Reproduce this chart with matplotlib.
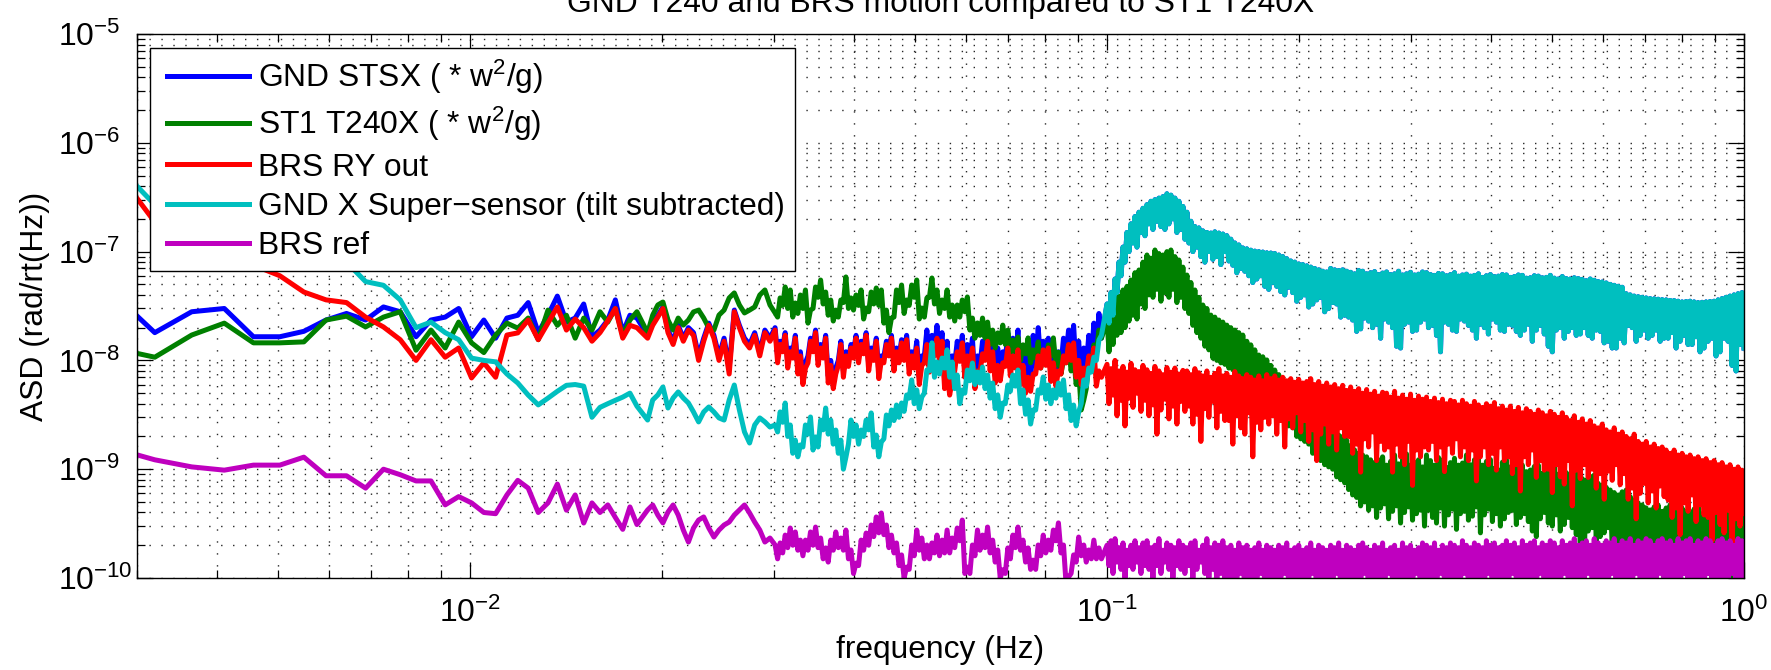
import numpy as np
import matplotlib
matplotlib.use('Agg')
import matplotlib.pyplot as plt
from matplotlib.ticker import LogLocator, NullFormatter
from matplotlib.lines import Line2D
from matplotlib.legend_handler import HandlerLine2D

plt.rcParams['font.family'] = ['Liberation Sans', 'DejaVu Sans']
plt.rcParams['mathtext.fontset'] = 'custom'
plt.rcParams['mathtext.rm'] = 'Liberation Sans'
plt.rcParams['mathtext.it'] = 'Liberation Sans:italic'
plt.rcParams['mathtext.bf'] = 'Liberation Sans:bold'
plt.rcParams['mathtext.default'] = 'regular'

# ---------------- text ----------------
TITLE = 'GND T240 and BRS motion compared to ST1 T240X'
XLABEL = 'frequency (Hz)'
YLABEL = 'ASD (rad/rt(Hz))'
series_labels = ['GND STSX ( * w$^2$/g)',
                 'ST1 T240X ( * w$^2$/g)',
                 'BRS RY out',
                 'GND X Super\u2212sensor (tilt subtracted)',
                 'BRS ref']
series_colors = ['#0000ff', '#008000', '#ff0000', '#00bfbf', '#bf00bf']

# ---------------- data ----------------
# values in units of 1e-10 rad/sqrt(Hz)
UNIT = 1e-10
DF = 4.57e-4     # FFT bin width of the low-frequency part (Hz)
K0 = 6           # first bin shown
N_SPARSE = 25    # mid samples below ~0.03 Hz that have no extra lower samples
# low part: FFT bins K0.. ;
# mid part (0.019-0.098 Hz) and high part (0.1-1 Hz): alternating samples
# (upper values / lower values of the noisy trace)

blue_low = [420, 180, 280, 300, 165, 165, 185, 235, 270, 235,
            310, 280, 165, 235, 250, 300, 165, 235, 160, 245,
            260, 340, 180, 260, 390, 225, 245, 330, 165, 190,
            235, 360, 180, 260, 245]
blue_mid_top = [170, 220, 260, 310, 190, 150, 210, 160, 200, 180,
                110, 160, 220, 170, 110, 160, 85, 290, 210, 160,
                140, 180, 120, 190, 160, 200, 150, 180, 130, 170,
                120, 95, 160, 190, 140, 170, 100, 85, 150, 120,
                140, 170, 150, 180, 130, 160, 110, 150, 170, 130,
                155, 170, 120, 150, 110, 190, 170, 210, 180, 150,
                110, 150, 170, 140, 160, 110, 150, 190, 170, 130,
                120, 180, 160, 190, 130, 110, 170, 200, 150, 160,
                140, 120, 160, 190, 210, 150, 130, 170, 220, 270]
blue_mid_dip = [110, 135, 95, 120, 85,
                70, 110, 135, 100, 120, 72, 62, 100, 80, 100,
                120, 110, 130, 92, 115, 78, 108, 125, 92, 108,
                115, 88, 98, 70, 110, 90, 125, 110, 65, 58,
                92, 112, 82, 100, 64, 90, 115, 92, 72, 75,
                100, 85, 98, 70, 60, 62, 88, 98, 104, 75,
                68, 88, 108, 115, 82, 72, 88, 100, 120, 160]

green_low = [130, 107, 171, 220, 145, 145, 148, 235, 255, 203,
             250, 280, 124, 190, 130, 225, 145, 118, 171, 220,
             198, 245, 155, 290, 210, 260, 160, 245, 190, 280,
             225, 300, 170, 235, 280]
green_mid_top = [179, 261, 323, 344, 235, 190, 245, 211, 235, 279,
                 290, 245, 199, 190, 261, 290, 375, 417, 323, 273,
                 290, 310, 399, 444, 323, 273, 375, 473, 444, 337,
                 399, 444, 290, 473, 548, 425, 359, 290, 359, 585,
                 375, 399, 444, 303, 425, 463, 444, 290, 245, 444,
                 493, 359, 493, 548, 303, 375, 572, 444, 359, 444,
                 323, 323, 359, 383, 245, 221, 245, 225, 190, 179,
                 211, 190, 154, 164, 139, 161, 125, 148, 112, 139,
                 161, 119, 101, 139, 112, 82, 43, 97, 139, 190]
green_mid_dip = [250, 320, 300, 250, 270,
                 300, 220, 300, 380, 330, 260, 230, 250, 340, 300,
                 290, 320, 240, 280, 330, 320, 220, 180, 250, 340,
                 270, 320, 380, 240, 250, 380, 330, 270, 300, 250,
                 230, 250, 280, 190, 160, 170, 160, 140, 130, 145,
                 140, 115, 120, 100, 115, 95, 105, 85, 95, 110,
                 90, 75, 95, 80, 60, 35, 55, 90, 120, 160]
green_hi_top = [235, 270, 323, 390, 444, 480, 548, 640, 678, 800,
                931, 870, 1035, 960, 931, 1000, 1035, 900, 837, 720,
                609, 520, 444, 380, 323, 300, 261, 250, 235, 225,
                211, 200, 190, 180, 171, 150, 139, 125, 112, 108,
                101, 90, 81.6, 74, 66.1, 64, 59.4, 52, 48.1, 46,
                43.3, 38, 35.0, 31, 28.3, 27, 25.5, 22, 20.6, 20,
                18.5, 16.5, 15.0, 14, 13.5, 13, 12.2, 11.5, 12.2, 13,
                10.9, 11.8, 13.5, 11.2, 12.2, 13.8, 10.9, 11.6, 12.2, 10.5,
                13.5, 12.0, 10.9, 12.8, 12.2, 10.4, 11.5, 12.6, 10.9, 11.4,
                13.5, 11.0, 12.2, 13.0, 10.9, 11.8, 12.2, 10.2, 9.84, 11.6,
                12.2, 10.5, 10.9, 11.8, 10.9, 9.5, 9.84, 10.6, 10.9, 9.2,
                9.84, 10.4, 10.9, 9.0, 9.84, 9.3, 8.85, 9.5, 9.84, 8.2,
                7.96, 8.6, 8.85, 7.4, 7.16, 6.8, 6.44, 6.1, 5.79, 6.2,
                6.44, 5.6, 5.21, 4.9, 4.69, 4.4, 4.22, 4.5, 4.69, 4.1,
                4.4, 4.7, 4.9, 4.5, 4.4, 4.1, 4.0, 4.3, 4.6, 3.9,
                4.0, 4.3, 4.6, 4.1, 4.2, 4.5, 4.8, 4.0, 4.2, 4.4]
green_hi_dip = [120, 140, 170, 180, 200, 230, 260, 240, 330, 300,
                400, 380, 450, 350, 420, 380, 450, 340, 380, 300,
                270, 210, 180, 160, 135, 125, 105, 100, 95, 92,
                85, 82, 78, 70, 68, 58, 56, 50, 44, 45,
                40, 34, 33, 28, 27, 25, 24, 20, 19, 18,
                17, 14, 13.5, 12, 11, 10.5, 10, 8.5, 8.0, 7.5,
                6.5, 5.8, 5.5, 4.6, 5.0, 4.2, 4.6, 3.6, 4.4, 4.8,
                3.5, 4.1, 4.6, 3.2, 4.0, 4.5, 3.4, 3.9, 4.2, 3.0,
                4.2, 3.6, 3.2, 4.4, 3.0, 3.8, 4.3, 2.8, 3.9, 4.1,
                3.4, 3.7, 4.5, 2.6, 3.8, 4.3, 3.3, 3.9, 3.0, 3.5,
                4.0, 4.2, 3.1, 3.6, 3.9, 3.3, 2.7, 2.4, 3.5, 4.0,
                3.2, 3.0, 3.8, 2.7, 3.1, 3.6, 2.9, 2.5, 2.1, 1.6,
                2.7, 2.9, 2.2, 2.4, 2.6, 2.9, 1.9, 1.5, 2.2, 1.9,
                1.8, 2.1, 1.9, 1.6, 1.5, 1.3, 1.8, 1.7, 1.3, 1.0,
                1.6, 1.4, 1.3, 1.5, 1.2, 1.1, 1.4, 1.0, 1.2, 1.5,
                1.1, 0.9, 1.3, 1.2, 1.1, 1.3, 0.9, 1.1, 1.3, 1.4]

red_low = [6250, 1870, 1280, 930, 750, 600, 425, 360, 340, 250,
           203, 155, 100, 155, 107, 130, 69, 95, 70, 171,
           179, 235, 155, 220, 310, 190, 240, 200, 150, 180,
           230, 300, 160, 210, 200]
red_mid_top = [160, 210, 250, 300, 180, 140, 200, 150, 190, 170,
               100, 150, 210, 160, 100, 150, 75, 280, 200, 150,
               130, 170, 110, 180, 150, 190, 140, 170, 120, 160,
               110, 85, 150, 180, 130, 160, 90, 75, 140, 110,
               130, 160, 140, 170, 120, 150, 100, 140, 160, 120,
               145, 155, 110, 130, 90, 140, 120, 160, 150, 80,
               65, 120, 145, 110, 130, 80, 115, 150, 120, 90,
               95, 130, 110, 125, 90, 70, 75, 110, 125, 130,
               95, 80, 110, 140, 145, 100, 85, 110, 130, 80]
red_mid_dip = [95, 120, 85, 105, 75,
               60, 95, 120, 90, 105, 62, 55, 90, 70, 88,
               105, 95, 115, 80, 100, 68, 95, 110, 80, 95,
               100, 75, 85, 60, 95, 78, 110, 95, 55, 48,
               80, 98, 70, 88, 55, 78, 100, 80, 62, 65,
               88, 72, 85, 60, 50, 52, 75, 85, 90, 64,
               58, 75, 95, 100, 70, 60, 75, 88, 58, 70]
red_hi_top = [92, 84, 100, 80, 88, 78, 94, 82, 79, 90,
              82, 76, 88, 80, 74, 86, 78, 85, 75, 81,
              80, 74, 84, 77, 72, 80, 70, 76, 84, 72,
              76, 70, 79, 72, 68, 74, 70, 66, 72, 65,
              74, 68, 72, 66, 70, 65, 68, 63, 67, 62,
              64, 68, 60, 64, 58, 62, 57, 60, 55, 59,
              53, 57, 52, 55, 50, 54, 49, 52, 47, 51,
              50, 46, 52, 45, 48, 44, 49, 43, 47, 44,
              46, 42, 45, 41, 44, 40, 43, 42, 39, 43,
              40, 38, 42, 39, 37, 40, 38, 41, 36, 38,
              35, 38, 34, 37, 33, 36, 34, 32, 35, 33,
              31, 34, 32, 30, 33, 30, 28, 31, 27, 29,
              26, 28, 25, 24, 26, 23, 22, 24, 21, 22,
              20, 19, 21, 18, 17, 18, 16, 17, 15.5, 16,
              15, 14, 15, 13.5, 14, 13, 13.5, 12.5, 13, 12,
              12.5, 11.5, 12, 11, 11.5, 10.5, 11, 10, 10.5, 9.8]
red_hi_dip = [40, 48, 31, 43, 25, 45, 37, 50, 34, 43,
              31, 39, 21, 35, 44, 29, 38, 26, 42, 34,
              38, 26, 32, 18, 36, 30, 42, 24, 34, 28,
              28, 17, 31, 24, 21, 33, 13, 27, 23, 30,
              26, 31, 21, 28, 16, 29, 24, 33, 22, 28,
              18, 23, 12, 21, 26, 17, 22, 15, 24, 20,
              20, 14, 17, 9.4, 19, 16, 22, 12, 18, 15,
              16, 9.4, 17, 13, 11, 18, 7.1, 15, 13, 16,
              15, 18, 12, 16, 9.5, 17, 14, 19, 13, 16,
              12, 15, 7.8, 13, 16, 11, 14, 9.8, 16, 12,
              13, 9.1, 11, 6.3, 13, 11, 15, 8.4, 12, 9.8,
              10, 6.1, 11, 8.5, 7.3, 12, 4.6, 9.8, 8.2, 11,
              8.4, 10, 6.7, 9.1, 5.3, 9.6, 7.9, 11, 7.2, 9.1,
              5.3, 6.7, 3.5, 6.0, 7.4, 4.9, 6.3, 4.4, 7.0, 5.6,
              5.2, 3.6, 4.4, 2.5, 4.9, 4.1, 5.8, 3.3, 4.7, 3.8,
              3.6, 2.2, 4.0, 3.1, 2.6, 4.2, 1.7, 3.5, 3.0, 3.9]

cyan_low = [6900, 2700, 2000, 1500, 1280, 1030, 930, 870, 800, 530,
            490, 360, 200, 225, 180, 155, 105, 100, 97, 75,
            62, 48, 39, 45, 52, 59, 60, 58, 30, 37,
            40, 43, 46, 50, 38]
cyan_mid_top = [28.3, 43.3, 48.1, 57.0, 36.5, 45.1, 51.3, 45.1, 40.6, 33.6,
                27.2, 33.6, 37.3, 33.6, 29.6, 28.3, 43.3, 59.4, 35.0, 22.0,
                17.4, 25.5, 29.6, 27.2, 24.4, 25.5, 33.6, 40.6, 25.5, 18.5,
                16.7, 25.5, 30.2, 19.8, 28.3, 36.5, 28.3, 22.9, 18.5, 12.9,
                28.3, 25.5, 22.9, 28.3, 32.9, 20.6, 17.8, 31.5, 35.0, 38.9,
                40.6, 48.1, 66.1, 53.5, 46.1, 81.6, 145, 96.7, 105, 125,
                96.7, 73.4, 53.5, 81.6, 94.6, 78.2, 86.9, 73.4, 62.0, 48.1,
                40.6, 59.4, 73.4, 81.6, 53.5, 43.3, 35.0, 53.5, 70.4, 59.4,
                53.5, 62.0, 66.1, 48.1, 38.9, 33.6, 66.1, 85.1, 107, 154]
cyan_mid_dip = [22, 27, 20, 14, 13,
                16, 21, 15, 16, 23, 21, 17, 14, 10, 17,
                20, 17, 20, 23, 16, 13, 19, 25, 28, 30,
                34, 45, 40, 36, 50, 80, 70, 75, 85, 70,
                55, 40, 50, 65, 60, 62, 55, 45, 36, 30,
                40, 52, 58, 40, 32, 26, 35, 50, 44, 40,
                45, 48, 36, 28, 25, 40, 58, 78, 100, 170]
cyan_hi_top = [330, 420, 560, 800, 1100, 1500, 1800, 2100, 2300, 2500,
               2700, 2900, 3000, 3100, 3200, 3400, 3300, 3100, 2900, 2600,
               2300, 1900, 1700, 1650, 1550, 1500, 1480, 1520, 1480, 1450,
               1400, 1300, 1200, 1150, 1080, 1060, 1030, 1010, 1000, 990,
               975, 970, 960, 930, 900, 860, 820, 800, 770, 760,
               740, 720, 700, 680, 660, 650, 700, 680, 670, 680,
               660, 645, 625, 670, 660, 625, 640, 655, 615, 635,
               650, 615, 625, 660, 610, 625, 645, 610, 620, 650,
               640, 615, 605, 630, 625, 600, 615, 640, 595, 610,
               620, 595, 605, 625, 580, 600, 615, 590, 595, 615,
               610, 580, 590, 610, 605, 570, 575, 600, 595, 575,
               580, 605, 570, 560, 590, 565, 560, 575, 565, 555,
               540, 560, 545, 530, 525, 515, 500, 490, 480, 470,
               410, 400, 390, 385, 380, 375, 370, 368, 365, 362,
               360, 356, 355, 350, 345, 348, 350, 345, 340, 342,
               345, 348, 350, 360, 370, 380, 390, 400, 410, 420]
cyan_hi_dip = [220, 260, 420, 600, 800, 1000, 1200, 1100, 1500, 1400,
               1800, 1600, 1900, 1700, 1600, 1800, 2000, 1500, 1600, 1300,
               1200, 1000, 1100, 900, 800, 1000, 850, 900, 760, 1000,
               820, 750, 640, 700, 660, 600, 520, 560, 600, 480,
               450, 520, 480, 430, 400, 470, 420, 350, 380, 400,
               310, 330, 360, 380, 280, 300, 340, 330, 250, 260,
               250, 235, 185, 195, 245, 230, 200, 215, 160, 240,
               225, 200, 135, 130, 215, 225, 185, 190, 225, 240,
               200, 210, 170, 120, 225, 215, 190, 185, 240, 230,
               210, 190, 160, 215, 200, 175, 240, 225, 190, 185,
               215, 210, 185, 170, 190, 215, 150, 190, 210, 175,
               135, 120, 190, 200, 160, 185, 200, 170, 175, 200,
               170, 160, 190, 185, 145, 150, 130, 130, 160, 145,
               210, 200, 150, 170, 190, 160, 170, 190, 150, 160,
               160, 180, 130, 150, 170, 140, 140, 165, 120, 130,
               150, 160, 110, 120, 160, 150, 90, 80, 140, 130]
# above 0.1 Hz the GND STSX trace lies exactly under the super-sensor trace
blue_hi_top = list(cyan_hi_top)
blue_hi_dip = list(cyan_hi_dip)

magenta_low = [15.7, 12.2, 10.5, 9.8, 10.9, 10.9, 12.9, 8.7, 8.7, 6.7,
               10.0, 8.9, 7.8, 7.8, 4.7, 5.6, 4.9, 4.0, 3.9, 5.8,
               7.9, 6.7, 4.0, 4.9, 7.3, 4.2, 5.8, 3.2, 4.9, 4.0,
               4.7, 3.6, 2.8, 4.5, 3.1]
magenta_mid_top = [4.22, 4.69, 3.79, 3.21, 4.04, 4.69, 3.79, 2.76, 2.14, 2.88,
                   3.41, 3.64, 2.88, 2.38, 2.76, 3.07, 3.27, 3.79, 4.22, 4.69,
                   3.96, 3.27, 2.76, 2.14, 2.33, 2.01, 2.10, 2.48, 2.88, 2.65,
                   2.23, 2.23, 2.65, 2.94, 2.33, 1.89, 2.23, 2.65, 2.33, 2.76,
                   1.81, 1.37, 2.23, 2.59, 3.07, 3.64, 3.96, 3.07, 2.48, 2.10,
                   1.63, 1.26, 2.01, 2.76, 2.33, 2.01, 2.10, 2.48, 2.23, 2.76,
                   2.33, 2.88, 3.41, 1.26, 2.01, 2.76, 2.48, 2.94, 2.23, 1.81,
                   1.19, 1.89, 2.48, 2.94, 2.23, 1.89, 1.46, 2.01, 2.48, 2.23,
                   2.76, 3.21, 2.01, 1.02, 1.63, 2.38, 2.01, 1.81, 2.23, 1.89]
magenta_mid_dip = [1.5, 1.7, 1.9, 2.0, 1.8,
                   1.6, 1.8, 2.0, 1.9, 1.5, 1.4, 1.8, 1.9, 1.8, 1.5,
                   1.1, 1.3, 1.8, 2.0, 2.4, 2.6, 2.5, 1.9, 1.7, 1.3,
                   1.0, 1.2, 1.6, 1.8, 1.5, 1.5, 1.7, 1.6, 1.7, 1.7,
                   1.9, 2.2, 1.1, 1.1, 1.6, 1.8, 1.9, 1.7, 1.4, 1.0,
                   1.1, 1.5, 1.9, 1.8, 1.4, 1.2, 1.2, 1.6, 1.7, 1.8,
                   2.2, 1.7, 0.9, 1.1, 1.4, 1.6, 1.4, 1.5, 1.5, 1.5]
magenta_hi_top = [2.0, 2.2, 2.3, 1.9, 2.1, 1.8, 2.0, 2.2, 1.9, 2.1,
                  2.2, 1.9, 2.0, 2.3, 1.8, 2.1, 2.0, 1.9, 2.2, 2.0,
                  1.9, 2.1, 2.2, 1.8, 2.0, 2.3, 1.9, 2.1, 2.0, 2.2,
                  1.9, 2.0, 1.8, 2.1, 1.9, 2.0, 1.8, 1.9, 2.1, 1.8,
                  2.0, 1.9, 1.8, 2.0, 1.9, 2.1, 1.8, 1.9, 2.0, 1.8,
                  1.9, 2.1, 1.8, 2.0, 1.9, 1.8, 2.0, 1.9, 2.1, 1.8,
                  2.0, 1.9, 1.8, 2.0, 2.1, 1.9, 1.8, 2.0, 1.9, 2.1,
                  1.8, 1.9, 2.0, 1.8, 2.1, 1.9, 2.0, 1.8, 1.9, 2.1,
                  2.0, 1.9, 2.1, 1.8, 2.0, 1.9, 2.1, 2.0, 1.9, 2.2,
                  2.0, 1.9, 2.1, 2.0, 1.9, 2.2, 2.0, 2.1, 1.9, 2.0,
                  2.2, 2.0, 2.1, 1.9, 2.2, 2.0, 2.1, 2.2, 1.9, 2.1,
                  2.0, 2.2, 2.1, 1.9, 2.2, 2.0, 2.1, 2.3, 2.0, 2.1,
                  2.2, 2.0, 2.3, 2.1, 2.0, 2.2, 2.1, 2.3, 2.0, 2.2,
                  2.1, 2.3, 2.0, 2.2, 2.1, 2.3, 2.2, 2.0, 2.2, 2.3,
                  2.1, 2.2, 2.0, 2.3, 2.1, 2.2, 2.3, 2.0, 2.2, 2.1,
                  2.3, 2.2, 2.0, 2.2, 2.3, 2.1, 2.2, 2.0, 2.3, 2.2]
magenta_hi_dip = [1.3, 1.1, 1.4, 1.2, 1.0, 1.3, 1.2, 1.4, 1.1, 1.3,
                  1.2, 1.0, 1.3, 1.1, 1.4, 1.2, 1.0, 1.3, 1.2, 1.1,
                  1.3, 1.0, 1.2, 1.4, 1.1, 1.0, 1.2, 0.9, 1.1, 1.0,
                  0.8, 1.0, 0.9, 1.1, 0.7, 0.9, 1.0, 0.8, 1.1, 0.9,
                  0.8, 1.0, 0.7, 0.9, 1.1, 0.8, 0.9, 0.7, 1.0, 0.8,
                  0.9, 1.1, 0.7, 0.8, 1.0, 0.9, 0.7, 1.1, 0.8, 0.9,
                  1.0, 0.7, 0.9, 0.8, 1.1, 0.7, 0.9, 1.0, 0.8, 0.7,
                  1.1, 0.9, 0.8, 1.0, 0.7, 0.9, 0.8, 1.1, 0.7, 1.0,
                  0.9, 0.8, 0.7, 1.1, 0.9, 1.0, 0.8, 0.7, 0.9, 1.1,
                  0.8, 1.0, 0.7, 0.9, 0.8, 1.1, 0.7, 0.9, 1.0, 0.8,
                  0.7, 1.1, 0.9, 0.8, 1.0, 0.7, 0.9, 0.8, 1.1, 0.7,
                  0.9, 1.0, 0.8, 0.7, 1.1, 0.9, 0.8, 1.0, 0.7, 0.9,
                  1.1, 0.8, 0.7, 1.0, 0.9, 0.8, 1.1, 0.7, 0.9, 1.0,
                  0.8, 0.7, 1.1, 0.9, 0.8, 1.0, 0.7, 0.9, 1.1, 0.8,
                  0.7, 1.0, 0.9, 0.8, 1.1, 0.7, 0.9, 1.0, 0.8, 0.7,
                  1.1, 0.9, 0.8, 1.0, 0.7, 0.9, 1.1, 0.8, 0.7, 1.0]


def interleave(tops, dips):
    # samples alternate: upper value, lower value, upper value, ...
    return np.column_stack([tops, dips]).ravel()


def build(low, mid_top, mid_dip, hi_top, hi_dip):
    """Return (frequency, value) arrays for one trace."""
    n_dense = len(mid_top) - N_SPARSE
    f_low = np.arange(K0, K0 + len(low)) * DF
    f_mid_a = np.geomspace(0.019, 0.02957, N_SPARSE)
    f_mid_b = np.geomspace(0.03012, 0.098, 2 * n_dense)
    f_high = np.geomspace(0.1, 1.0, 2 * len(hi_top))
    f = np.concatenate([f_low, f_mid_a, f_mid_b, f_high])
    v = np.concatenate([low, mid_top[:N_SPARSE],
                        interleave(mid_top[N_SPARSE:], mid_dip),
                        interleave(hi_top, hi_dip)])
    return f, v * UNIT


series = [build(blue_low, blue_mid_top, blue_mid_dip, blue_hi_top, blue_hi_dip),
          build(green_low, green_mid_top, green_mid_dip, green_hi_top, green_hi_dip),
          build(red_low, red_mid_top, red_mid_dip, red_hi_top, red_hi_dip),
          build(cyan_low, cyan_mid_top, cyan_mid_dip, cyan_hi_top, cyan_hi_dip),
          build(magenta_low, magenta_mid_top, magenta_mid_dip, magenta_hi_top, magenta_hi_dip)]

# ---------------- figure ----------------
W, H = 1771, 670
FS = 22.9
LW = 3.6
fig = plt.figure(figsize=(W / 100, H / 100), dpi=100)
fig.patch.set_facecolor('white')
AX_L, AX_R, AX_T, AX_B = 137, 1744, 34, 578
AXW, AXH = AX_R - AX_L, AX_B - AX_T
ax = fig.add_axes([AX_L / W, (H - AX_B) / H, AXW / W, AXH / H])

handles = []
for (f, v), col, lab in zip(series, series_colors, series_labels):
    h, = ax.plot(f, v, color=col, lw=LW, label=lab, solid_joinstyle='round')
    handles.append(h)

ax.set_xscale('log')
ax.set_yscale('log')
ax.set_xlim(0.003, 1.0)
ax.set_ylim(1e-10, 1e-5)

ax.xaxis.set_major_locator(LogLocator(base=10, numticks=20))
ax.xaxis.set_minor_locator(LogLocator(base=10, subs=np.arange(2, 10), numticks=100))
ax.yaxis.set_major_locator(LogLocator(base=10, numticks=20))
ax.yaxis.set_minor_locator(LogLocator(base=10, subs=np.arange(2, 10), numticks=100))
ax.xaxis.set_minor_formatter(NullFormatter())
ax.yaxis.set_minor_formatter(NullFormatter())

ax.set_axisbelow(True)
grid_style = dict(linestyle=(0, (1, 7.6)), linewidth=1.0, color='0.15')
ax.grid(True, which='major', **grid_style)
ax.grid(True, which='minor', **grid_style)

ax.tick_params(which='both', direction='in', top=True, right=True,
               width=0.9, labelsize=FS, colors='k')
ax.tick_params(which='major', length=11.5)
ax.tick_params(which='minor', length=5.8)
ax.tick_params(axis='x', which='major', pad=14)
# MATLAB-like y tick labels: the "10" bases line up, exponents hang to the right
ax.tick_params(axis='y', which='major', pad=(AX_L - 58) * 0.72)
for t in ax.yaxis.get_major_ticks():
    t.label1.set_horizontalalignment('left')
for sp in ax.spines.values():
    sp.set_linewidth(1.0)
    sp.set_color('k')

ax.set_title(TITLE, fontsize=FS, y=(AX_B - 12) / AXH, pad=0, va='baseline')
ax.set_xlabel(XLABEL, fontsize=FS)
ax.xaxis.set_label_coords(0.5, (AX_B - 658) / AXH)
ax.xaxis.label.set_va('baseline')
ax.set_ylabel(YLABEL, fontsize=FS)
ax.yaxis.set_label_coords((35 - AX_L) / AXW, 0.5)
ax.yaxis.label.set_va('center')

leg = ax.legend(handles, series_labels, loc='upper left',
                bbox_to_anchor=((150 - AX_L) / AXW, (AX_B - 48) / AXH),
                borderaxespad=0, fontsize=FS, frameon=True, fancybox=False,
                edgecolor='k', framealpha=1, handlelength=2.82, handletextpad=0.28,
                borderpad=0.3, labelspacing=0.29,
                handler_map={Line2D: HandlerLine2D(xpad=0.24)})
leg.get_frame().set_linewidth(1.0)

fig.savefig('out.png', dpi=100, facecolor='white')
